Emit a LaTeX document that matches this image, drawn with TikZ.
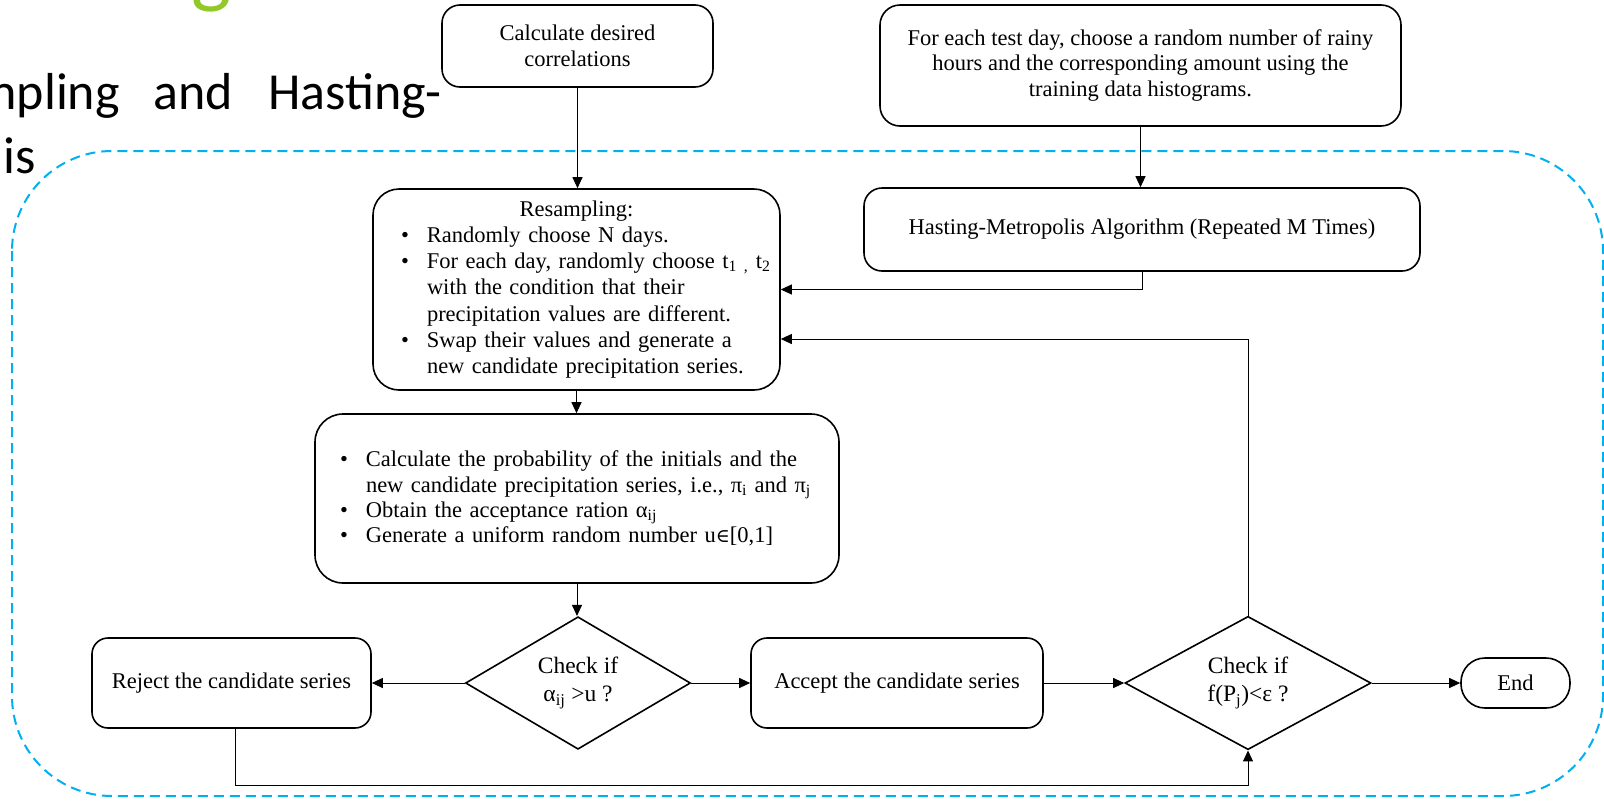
\documentclass[tikz,border=0pt]{standalone}
\usepackage{fontspec}
\setmainfont{Liberation Serif}
\newfontfamily\titlefont{Carlito}
\newfontfamily\symfont{DejaVu Serif}
\usetikzlibrary{arrows.meta,shapes.geometric,calc}
\definecolor{dashblue}{RGB}{0,176,240}
\definecolor{titlegreen}{RGB}{146,200,40}
\newcommand\fsz{\fontsize{22.5}{25.5}\selectfont}
\newcommand\bul[1]{\hspace*{#1}\makebox[0pt][r]{•\hspace{18pt}}}
\begin{document}
\begin{tikzpicture}[x=1pt,y=-1pt,
  box/.style={draw, fill=white, line width=1.6pt, rounded corners=#1, inner sep=0pt, align=center, font=\fsz},
  box/.default=16pt,
  dia/.style={draw, fill=white, diamond, line width=1.6pt, inner sep=0pt, align=center, font=\fontsize{23.5}{28.5}\selectfont},
  arr/.style={line width=1pt, -{Triangle[length=11pt,width=10pt]}},
  ttl/.style={inner sep=0pt, font=\titlefont\fontsize{52}{60}\selectfont}]
\clip (0,0) rectangle (1604,801);
\fill[white] (0,0) rectangle (1604,801);
% title fragments
\node[ttl, anchor=base west, text=titlegreen, font=\titlefont\fontsize{85}{90}\selectfont] (tg) at (191,-3) {g};
\node[ttl, anchor=base east] (t1) at (120,109) {mpling};
\node[ttl, anchor=base west] (t2) at (153,109) {and};
\node[ttl, anchor=base east] (t3) at (442,109) {Hasting-};
\node[ttl, anchor=base west] (t4) at (3,173) {is};
% dashed frame
\draw[dashblue, line width=2pt, dash pattern=on 10pt off 6pt, rounded corners=100pt] (12,151) rectangle (1603,796);
% boxes
\node[box=18pt, minimum width=271pt, minimum height=82pt] (calc) at (577.5,46) {Calculate desired\\correlations};
\node[box=20pt, minimum width=521pt, minimum height=121pt] (rainy) at (1140.5,65.5) {For each test day, choose a random number of rainy\\hours and the corresponding amount using the\\training data histograms.};
\node[box=18pt, minimum width=556pt, minimum height=83pt] (hast) at (1142,229.5) {Hasting-Metropolis Algorithm (Repeated M Times)};
\node[box=26pt, minimum width=407pt, minimum height=201pt, text width=407pt, align=left, font=\fontsize{22.5}{26.2}\selectfont] (resamp) at (576.5,289.5) {%
\makebox[407pt]{Resampling:}\\
\bul{54pt}Randomly choose N days.\\
\bul{54pt}For each day, randomly choose t\textsubscript{1 ,} t\textsubscript{2}\\
\hspace*{54pt}with the condition that their\\
\hspace*{54pt}precipitation values are different.\\
\bul{54pt}Swap their values and generate a\\
\hspace*{54pt}new candidate precipitation series.};
\node[box=28pt, minimum width=524pt, minimum height=169pt, text width=524pt, align=left, font=\fontsize{22.5}{25.3}\selectfont] (prob) at (577,498.5) {%
\bul{51pt}Calculate the probability of the initials and the\\
\hspace*{51pt}new candidate precipitation series, i.e., π\textsubscript{i} and π\textsubscript{j}\\
\bul{51pt}Obtain the acceptance ration α\textsubscript{ij}\\
\bul{51pt}Generate a uniform random number u{\symfont\fontsize{19}{20}\selectfont ∈}[0,1]};
\node[box=16pt, minimum width=279pt, minimum height=90pt] (reject) at (231.5,683) {Reject the candidate series};
\node[dia, minimum width=225pt, minimum height=132pt] (chk1) at (578,683) {Check if\\α\textsubscript{ij} >u ?};
\node[box=16pt, minimum width=292pt, minimum height=90pt] (accept) at (897,683) {Accept the candidate series};
\node[dia, minimum width=246pt, minimum height=132pt] (chk2) at (1248,683) {Check if\\f(P\textsubscript{j})<ε ?};
\node[box=24pt, minimum width=109pt, minimum height=50pt] (endn) at (1515.5,683) {End};
% connectors
\coordinate (loop) at (0,785);
\draw[arr] (calc.south) -- (calc.south |- resamp.north);
\draw[arr] (rainy.south) -- (rainy.south |- hast.north);
\draw[arr] (hast.south) |- (resamp.east);
\draw[arr] (chk2.north) |- ([yshift=-49.5pt]resamp.east);
\draw[arr] (resamp.south) -- (resamp.south |- prob.north);
\draw[arr] (prob.south) -- (prob.south |- chk1.north);
\draw[arr] (chk1.west) -- (reject.east);
\draw[arr] (chk1.east) -- (accept.west);
\draw[arr] (accept.east) -- (chk2.west);
\draw[arr] (chk2.east) -- (endn.west);
\draw[arr] ([xshift=3.5pt]reject.south) |- (loop -| chk2.south) -- (chk2.south);
\end{tikzpicture}
\end{document}
